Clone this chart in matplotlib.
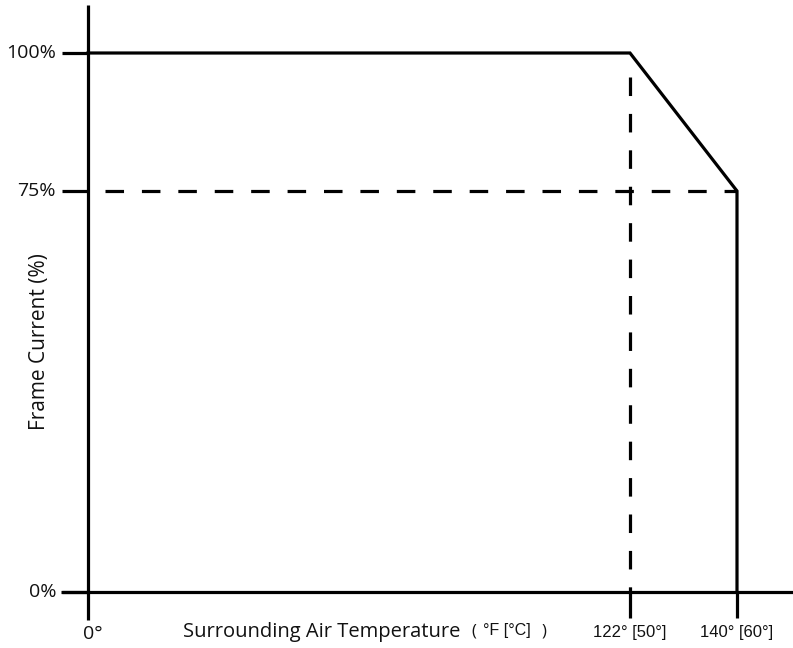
import numpy as np
import matplotlib
matplotlib.use("Agg")
import matplotlib.pyplot as plt
from matplotlib.transforms import blended_transform_factory as btf

# ---- data ----
temps_f = [0, 122, 140, 140]          # derating curve x (°F)
current_pct = [100, 100, 75, 0]       # derating curve y (%)
ytick_vals = [0, 75, 100]
ytick_labels = ["0%", "75%", "100%"]
xtick_vals = [122, 140]
xtick_labels = ["122° [50°]", "140° [60°]"]
knee_temp = 122
knee_pct = 100
end_temp = 140
end_pct = 75

# ---- non-linear scales (as drawn in the reference) ----
xp = [-100, 0, 122, 140, 300]
fp = [-444.3, 0, 542, 649, 649 + 160 * 107 / 18]
def fwd(x):
    return np.interp(x, xp, fp)
def inv(u):
    return np.interp(u, fp, xp)

yp = [-100, 0, 75, 100, 300]
gp = [-534.7, 0, 401, 539, 539 + 200 * 5.52]
def yfwd(y):
    return np.interp(y, yp, gp)
def yinv(u):
    return np.interp(u, gp, yp)

W, H = 793, 648
fig = plt.figure(figsize=(W / 100, H / 100), dpi=100)
fig.patch.set_facecolor("white")
ax = fig.add_axes([88 / W, (H - 592) / H, (793 - 88) / W, (592 - 5) / H])
ax.set_xscale("function", functions=(fwd, inv))
ax.set_yscale("function", functions=(yfwd, yinv))
ax.set_xlim(0, inv(705))
ax.set_ylim(0, yinv(587))
ax.axis("off")

lw = 2.3
dash = (0, (5.8, 5.6))
# axes lines
ax.plot([inv(-27), inv(705)], [0, 0], color="black", lw=lw, clip_on=False, solid_capstyle="butt")
ax.plot([0, 0], [yinv(-28), yinv(587)], color="black", lw=lw, clip_on=False, solid_capstyle="butt")
# y tick marks
for v in ytick_vals:
    ax.plot([inv(-26), 0], [v, v], color="black", lw=lw, clip_on=False, solid_capstyle="butt")
# x tick marks
for v in xtick_vals:
    ax.plot([v, v], [0, yinv(-26)], color="black", lw=lw, clip_on=False, solid_capstyle="butt")

# derating curve
ax.plot(temps_f, current_pct, color="black", lw=lw, clip_on=False, solid_joinstyle="miter")
# dashed guides
ax.plot([inv(17), end_temp], [end_pct, end_pct], color="black", lw=lw, linestyle=dash, clip_on=False)
ax.plot([knee_temp, knee_temp], [yinv(539 - 24), 0], color="black", lw=lw, linestyle=dash, clip_on=False)

# tick labels
tr_y = btf(fig.transFigure, ax.transData)
for v, lab in zip(ytick_vals, ytick_labels):
    ax.text(56 / W, v, lab, transform=tr_y, ha="right", va="center",
            fontsize=14, family=["Open Sans", "DejaVu Sans"], color="#111111")

tr_x = btf(ax.transData, fig.transFigure)
for v, lab in zip(xtick_vals, xtick_labels):
    ax.text(v, (H - 633) / H, lab, transform=tr_x, ha="center", va="center",
            fontsize=12, family=["Liberation Sans", "DejaVu Sans"], color="#111111")
ax.text(inv(5), (H - 634) / H, "0°", transform=tr_x, ha="center", va="center",
        fontsize=14, family=["Open Sans", "DejaVu Sans"], color="#111111")

# axis titles
fig.text(183 / W, (H - 632) / H, "Surrounding Air Temperature", ha="left", va="center",
         fontsize=14.5, family=["Open Sans", "DejaVu Sans"], color="#111111")
fig.text(471 / W, (H - 632) / H, "(", ha="left", va="center",
         fontsize=12, family=["Open Sans", "DejaVu Sans"], color="#111111")
fig.text(483 / W, (H - 631) / H, "°F [°C]", ha="left", va="center",
         fontsize=11.5, family=["Liberation Sans", "DejaVu Sans"], color="#111111")
fig.text(541 / W, (H - 632) / H, ")", ha="left", va="center",
         fontsize=12, family=["Open Sans", "DejaVu Sans"], color="#111111")
fig.text(40 / W, (H - 342) / H, "Frame Current (%)", ha="center", va="center", rotation=90,
         fontsize=15, family=["Open Sans", "DejaVu Sans"], color="#111111")

fig.savefig("out.png", dpi=100, facecolor="white")
